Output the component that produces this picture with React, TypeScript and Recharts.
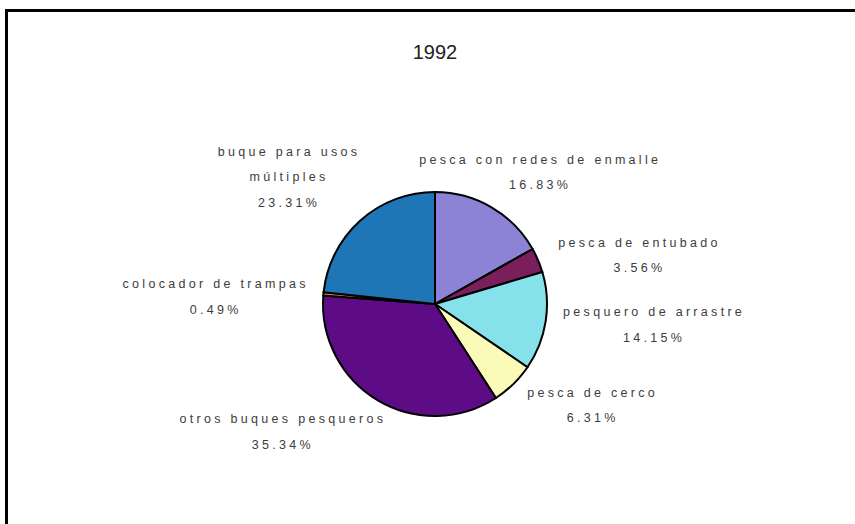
import { PieChart, Pie, Cell } from 'recharts';

const names = [
  'pesca con redes de enmalle',
  'pesca de entubado',
  'pesquero de arrastre',
  'pesca de cerco',
  'otros buques pesqueros',
  'colocador de trampas',
  'buque para usos\nmúltiples',
];
const shares = [16.83, 3.56, 14.15, 6.31, 35.34, 0.49, 23.31];
const colors = ['#8c82d6', '#7a1f5c', '#86e2ea', '#fbfab8', '#5e0c86', '#f07c6c', '#1f76b6'];

// nudges from the library's label anchor to where the original put each label
const labelNudge = [
  [26, 4],
  [60, 13],
  [64, -3],
  [48, -11],
  [-72, -7],
  [-63, 7],
  [-41, -10],
];

const data = names.map((name, i) => ({ name, value: shares[i] }));

const RAD = Math.PI / 180;

function renderLabel(props: any) {
  const { cx, cy, midAngle, outerRadius, index } = props;
  const r = outerRadius + 45;
  const x = cx + r * Math.cos(-midAngle * RAD) + labelNudge[index][0];
  const y = cy + r * Math.sin(-midAngle * RAD) + labelNudge[index][1];
  const lines = [...names[index].split('\n'), `${shares[index].toFixed(2)}%`];
  const lh = 25.5;
  const top = y - ((lines.length - 1) * lh) / 2;
  return (
    <text
      x={x}
      y={top}
      textAnchor="middle"
      dominantBaseline="central"
      fill="#3c3c3c"
      fontSize={12.5}
      letterSpacing={3.3}
      fontFamily="'Liberation Sans', Arial, sans-serif"
    >
      {lines.map((l, i) => (
        <tspan key={i} x={x} y={top + i * lh}>
          {l}
        </tspan>
      ))}
    </text>
  );
}

export default function App() {
  return (
    <div style={{ position: 'absolute', left: 0, top: 0, width: 855, height: 524, background: '#fff', overflow: 'hidden' }}>
      <div
        style={{
          position: 'absolute',
          left: 5,
          top: 9,
          width: 860,
          height: 530,
          borderTop: '3px solid #000',
          borderLeft: '3px solid #000',
        }}
      />
      <div
        style={{
          position: 'absolute',
          left: 0,
          width: 870,
          top: 40,
          textAlign: 'center',
          fontFamily: "'Liberation Sans Narrow', 'Liberation Sans', Arial, sans-serif",
          fontSize: 20,
          color: '#222',
          lineHeight: '24px',
        }}
      >
        1992
      </div>
      <div style={{ position: 'absolute', left: 0, top: 0 }}>
        <PieChart width={855} height={524} margin={{ top: 0, right: 0, bottom: 0, left: 0 }}>
          <Pie
            data={data}
            dataKey="value"
            nameKey="name"
            cx={435}
            cy={304}
            outerRadius={112}
            startAngle={90}
            endAngle={-270}
            stroke="#000"
            strokeWidth={2}
            label={renderLabel}
            labelLine={false}
            isAnimationActive={false}
          >
            {data.map((_, i) => (
              <Cell key={`cell-${i}`} fill={colors[i]} />
            ))}
          </Pie>
        </PieChart>
      </div>
    </div>
  );
}
